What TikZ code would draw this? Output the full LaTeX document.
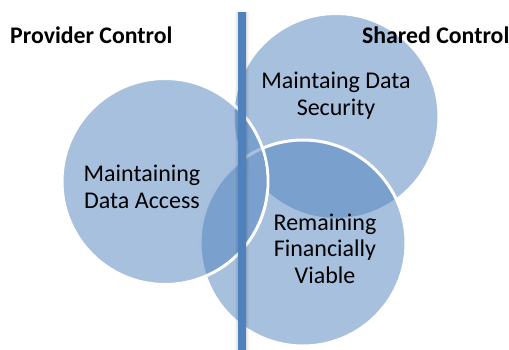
\documentclass[tikz,border=0pt]{standalone}
\usepackage{fontspec}
\setmainfont{Carlito}
\definecolor{accent}{HTML}{4F81BD}
\definecolor{overlap}{HTML}{7BA0CD}
\definecolor{paleline}{HTML}{A7BFDE}
\begin{document}
\begin{tikzpicture}[x=1pt,y=-1pt,
  venn/.style={fill=accent, fill opacity=0.5, draw=white, line width=3pt},
  venntext/.style={font=\fontsize{24}{26.5}\selectfont, align=center, inner sep=0pt, text=black},
  heading/.style={font=\fontsize{23.8}{27}\selectfont\bfseries, inner sep=0pt, text=black},
  divider/.style={accent, line width=7.5pt},
  dividershade/.style={black, line width=#1, opacity=0.035}]
\useasboundingbox (0,0) rectangle (509,349);

% circle centres
\coordinate (cs) at (336,116.5);
\coordinate (cf) at (303,243);
\coordinate (ca) at (165,181.5);

% the three translucent circles
\path[venn] (cs) circle[radius=103pt];
\path[venn] (cf) circle[radius=103pt];
\path[venn] (ca) circle[radius=103pt];

% the centre lens keeps the two-circle tone
\begin{scope}
  \clip (cs) circle[radius=101.5pt];
  \clip (ca) circle[radius=101.5pt];
  \fill[overlap] (cf) circle[radius=101.5pt];
  \draw[paleline, line width=3pt] (cf) circle[radius=103pt];
\end{scope}

% vertical divider with soft shadow
\coordinate (bt) at (242.2,12);
\coordinate (bb) at (242.2,352);
\foreach \w in {14pt,12pt,10pt,9pt}
  \draw[dividershade=\w] (bt) -- (bb);
\draw[divider] (bt) -- (bb);

% headings
\node[heading, anchor=base west] (prov) at (10,43.3) {Provider Control};
\node[heading, anchor=base east] (shared) at (509.5,43.3) {Shared Control};

% circle labels (base anchor sits on the last line)
\node[venntext, anchor=base] (access) at (142,208.3) {Maintaining\\Data Access};
\node[venntext, anchor=base] (security) at (336,115) {Maintaing Data\\Security};
\node[venntext, anchor=base] (finance) at (325,283.3) {Remaining\\Financially\\Viable};
\end{tikzpicture}
\end{document}
